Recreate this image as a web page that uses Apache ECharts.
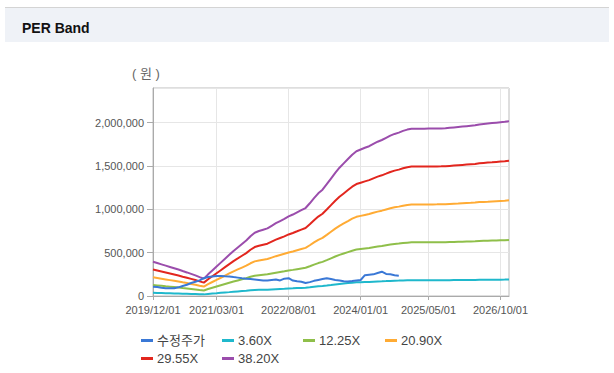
<!DOCTYPE html>
<html>
<head>
<meta charset="utf-8">
<script src="https://cdn.jsdelivr.net/npm/echarts@6/dist/echarts.min.js"></script>
<style>
html,body{margin:0;padding:0;background:#fff;}
#chart{width:614px;height:373px;}
</style>
</head>
<body>
<div id="chart"></div>
<script>
// ---- data ----
const startYear = 2019, startMonth = 12, monthCount = 85; // 2019/12 .. 2026/12
const categories = [];
for (let k = 0; k < monthCount; k++) {
  const m0 = startMonth - 1 + k;
  const y = startYear + Math.floor(m0 / 12);
  const m = (m0 % 12) + 1;
  categories.push(y + '/' + (m < 10 ? '0' + m : m) + '/01');
}
const tickLabels = ['2019/12/01','2021/03/01','2022/08/01','2024/01/01','2025/05/01','2026/10/01'];
const yTicks = [0, 500000, 1000000, 1500000, 2000000];

const seriesNames = ['수정주가','3.60X','12.25X','20.90X','29.55X','38.20X'];

const price = [108000,105000,95000,90000,88000,90000,100000,115000,130000,150000,165000,180000,205000,220000,225000,230000,232000,228000,225000,218000,212000,205000,200000,195000,190000,185000,180000,180000,185000,190000,180000,200000,205000,178000,170000,165000,150000,160000,175000,185000,195000,205000,195000,185000,180000,170000,166000,172000,180000,185000,240000,245000,250000,265000,280000,255000,250000,240000,235000];

const per360 = [37200,35800,34400,33000,31600,30100,28700,27100,25600,24000,22400,20500,18800,23600,27800,32000,36300,40500,44700,49000,52800,56500,60300,65000,68800,70700,72100,73500,76300,79100,81500,83800,86500,88500,90900,93300,95600,100800,106400,111600,115600,121500,127600,133800,139400,144100,148800,153500,157300,159200,161100,162800,165300,167700,169600,171900,174300,176200,177600,179500,180900,181800,181800,181800,181800,182000,182000,182100,182200,182300,182700,183200,183700,184200,184600,185100,185600,186500,187000,187500,187900,188400,188900,189300,190000];

const per1225 = [126700,121900,117100,112200,107400,102600,97800,92400,87200,81800,76300,69900,64100,80200,94600,109000,123500,137900,152300,166800,179600,192400,205200,221300,234100,240500,245300,250100,259800,269400,277400,285400,294400,301500,309500,317500,325500,343100,362400,380000,393500,413700,434500,455400,474600,490700,506700,522700,535600,542000,548400,554200,562800,570800,577300,585300,593300,599700,604500,610900,615700,619000,619000,619000,619000,619600,619600,619900,620200,620500,622200,623800,625400,627000,628600,630200,631800,635000,636600,638200,639800,641400,643000,644600,646900];

const per2090 = [216100,207900,199700,191500,183300,175100,166900,157600,148800,139500,130200,119300,109400,136800,161400,186000,210600,235300,259900,284500,306400,328300,350100,377500,399400,410300,418500,426700,443200,459600,473200,486900,502200,514300,528000,541600,555300,585400,618200,648300,671300,705800,741300,776900,809700,837100,864400,891800,913700,924600,935500,945400,960200,973800,984800,998500,1012100,1023100,1031300,1042200,1050400,1055900,1055900,1055900,1055900,1057000,1057000,1057500,1058100,1058600,1061400,1064100,1066800,1069600,1072300,1075000,1077800,1083300,1086000,1088700,1091500,1094200,1096900,1099700,1103500];

const per2955 = [305600,294000,282400,270800,259200,247600,236000,222800,210400,197300,184100,168600,154700,193400,228200,263000,297800,332600,367500,402300,433200,464200,495100,533800,564700,580200,591800,603400,626600,649800,669200,688500,710200,727200,746500,765900,785200,827800,874200,916700,949200,997900,1048200,1098500,1144900,1183600,1222300,1261000,1291900,1307400,1322900,1336800,1357700,1377000,1392500,1411800,1431200,1446600,1458200,1473700,1485300,1493000,1493000,1493000,1493000,1494600,1494600,1495400,1496100,1496900,1500800,1504700,1508500,1512400,1516300,1520100,1524000,1531700,1535600,1539500,1543300,1547200,1551100,1554900,1560400];

const per3820 = [395000,380000,365000,350000,335000,320000,305000,288000,272000,255000,238000,218000,200000,250000,295000,340000,385000,430000,475000,520000,560000,600000,640000,690000,730000,750000,765000,780000,810000,840000,865000,890000,918000,940000,965000,990000,1015000,1070000,1130000,1185000,1227000,1290000,1355000,1420000,1480000,1530000,1580000,1630000,1670000,1690000,1710000,1728000,1755000,1780000,1800000,1825000,1850000,1870000,1885000,1905000,1920000,1930000,1930000,1930000,1930000,1932000,1932000,1933000,1934000,1935000,1940000,1945000,1950000,1955000,1960000,1965000,1970000,1980000,1985000,1990000,1995000,2000000,2005000,2010000,2017000];

// ---- styles ----
const colors = ['#3a78d6','#1fb8cc','#8fbf4a','#ffab34','#e2261e','#9b4dac'];
const seriesData = [price, per360, per1225, per2090, per2955, per3820];
const font = '"Liberation Sans", Arial, "Noto Sans CJK KR", sans-serif';

const showIdx = tickLabels.map(t => categories.indexOf(t));
const isTick = (idx) => showIdx.indexOf(idx) >= 0;

const legendPos = [[141,334],[222,334],[303,334],[385,334],[141,352],[222,352]];

const chart = echarts.init(document.getElementById('chart'), null, {renderer: 'svg'});
chart.setOption({
  animation: false,
  backgroundColor: '#ffffff',
  color: colors,
  textStyle: {fontFamily: font},
  title: {
    text: 'PER Band', left: 17, top: 16,
    textStyle: {fontSize: 14, fontWeight: 'bold', color: '#111', fontFamily: font}
  },
  graphic: [
    {type: 'rect', z: -10, silent: true, shape: {x: 5, y: 7, width: 604, height: 35}, style: {fill: '#eff2f7'}},
    {type: 'rect', z: -9, silent: true, shape: {x: 5, y: 7, width: 604, height: 1}, style: {fill: '#d4d4d4'}},
    {type: 'text', silent: true, left: 132, top: 67, style: {text: '( 원 )', fill: '#666', font: '13px ' + font}}
  ],
  legend: seriesNames.map((n, k) => ({
    data: [n], left: legendPos[k][0], top: legendPos[k][1],
    icon: 'rect', itemWidth: 12, itemHeight: 3, itemGap: 0, padding: 0,
    textStyle: {fontSize: 13, color: '#444', fontFamily: font, padding: [0,0,0,-1]}
  })),
  grid: {left: 153, right: 105, top: 88, bottom: 77, show: true, borderColor: '#bcbcbc', borderWidth: 1},
  xAxis: {
    type: 'category', data: categories, boundaryGap: false,
    axisLine: {lineStyle: {color: '#aaaaaa'}},
    axisTick: {show: true, interval: isTick, length: 4, lineStyle: {color: '#aaaaaa'}},
    axisLabel: {interval: isTick, color: '#555', fontSize: 11, margin: 8, fontFamily: font},
    splitLine: {show: true, interval: isTick, lineStyle: {color: '#e6e6e6'}}
  },
  yAxis: {
    type: 'value', min: 0, max: 2400000, interval: 500000,
    axisLine: {show: true, lineStyle: {color: '#aaaaaa'}},
    axisTick: {show: true, length: 6, lineStyle: {color: '#aaaaaa'}},
    axisLabel: {
      color: '#555', fontSize: 11, margin: 9, showMaxLabel: false, fontFamily: font,
      formatter: v => (yTicks.indexOf(v) >= 0 ? v.toLocaleString('en-US') : '')
    },
    splitLine: {show: true, lineStyle: {color: '#e6e6e6'}}
  },
  series: seriesNames.map((n, k) => ({
    name: n, type: 'line', data: seriesData[k], showSymbol: false, symbol: 'none',
    lineStyle: {width: 2, color: colors[k]}, itemStyle: {color: colors[k]},
    z: k === 0 ? 10 : 2
  }))
});
</script>
</body>
</html>
